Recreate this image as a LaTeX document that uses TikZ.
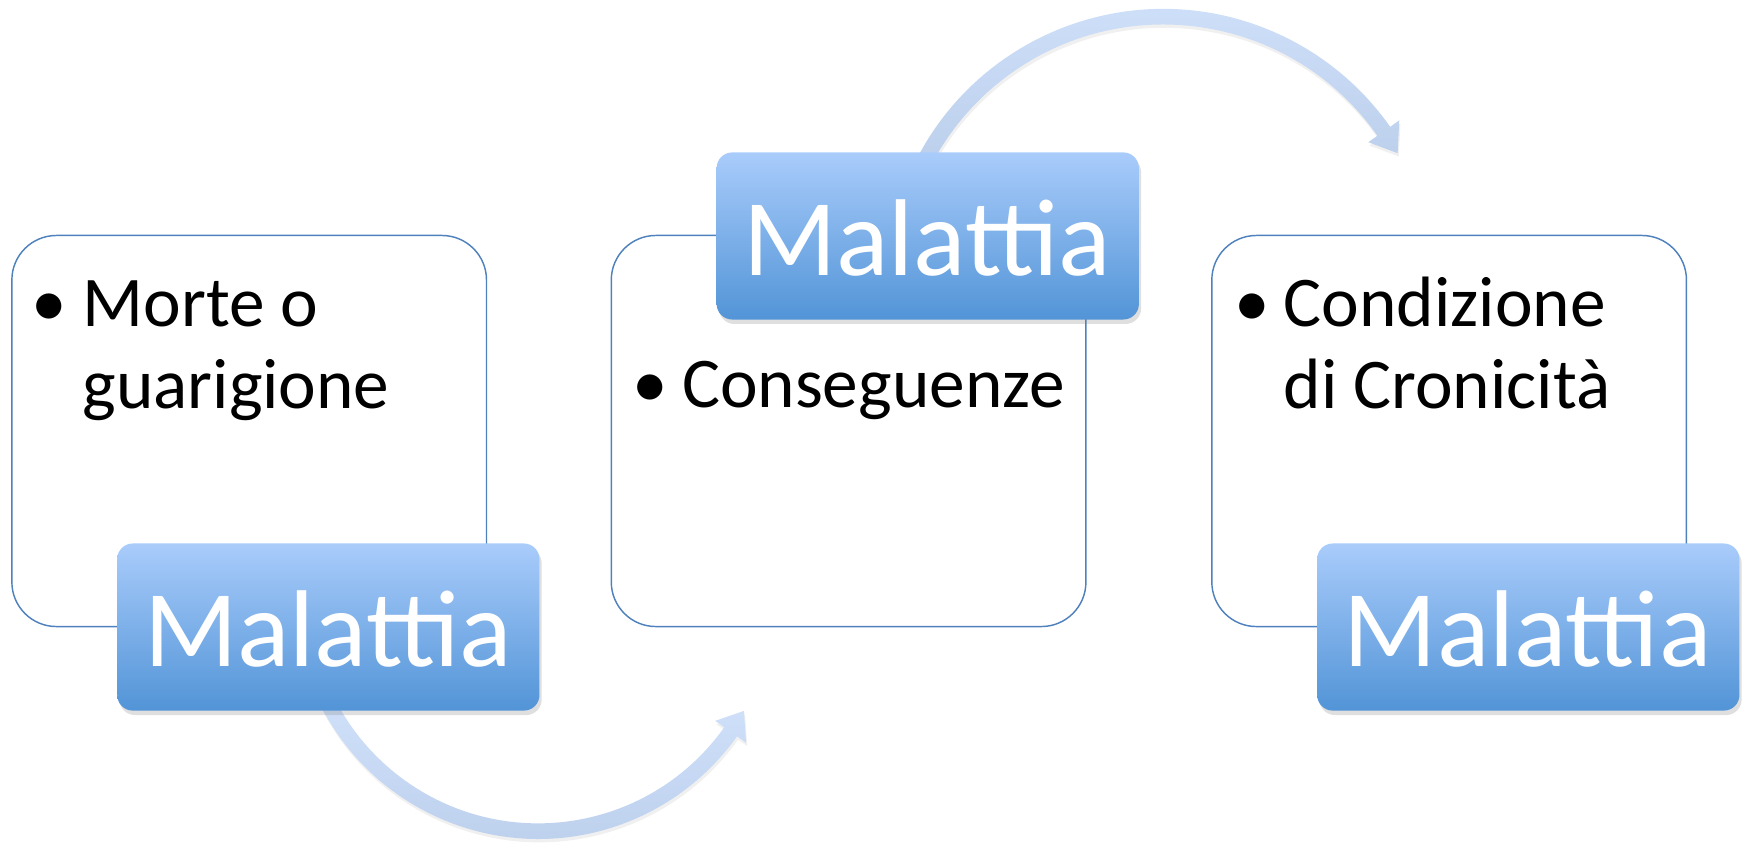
\documentclass[tikz,border=0pt]{standalone}
\usepackage{fontspec}
\setmainfont{Carlito}
\usetikzlibrary{shadows}
\definecolor{boxline}{HTML}{4F81BD}
\definecolor{maltop}{HTML}{A9CCFB}
\definecolor{malbot}{HTML}{5294D7}
\definecolor{arrtop}{HTML}{D2E2FB}
\definecolor{arrbot}{HTML}{B9CDEA}
\begin{document}
\begin{tikzpicture}[x=1pt,y=1pt,
  panel/.style={draw=boxline, line width=1.3pt, fill=white, rounded corners=40pt, anchor=south west, minimum width=426pt, minimum height=351pt},
  tag/.style={rounded corners=14pt, top color=maltop, bottom color=malbot, anchor=south west, minimum width=379pt, minimum height=150pt,
    drop shadow={shadow xshift=2pt, shadow yshift=-4pt, opacity=0.25}},
  bodytext/.style={font=\fontsize{64}{74}\selectfont, anchor=base west, align=left, inner sep=0pt},
  bullettext/.style={font=\fontsize{64}{74}\selectfont, anchor=base, inner sep=0pt},
  tagtext/.style={font=\fontsize{98}{110}\selectfont, text=white, anchor=base, inner sep=0pt},
  flow/.style={top color=arrtop, bottom color=arrbot, drop shadow={shadow xshift=1pt, shadow yshift=-3pt, opacity=0.12}}
]
\useasboundingbox (0,0) rectangle (1568,758);
% panels
\node[panel] (p1) at (10,195) {};
\node[panel] (p2) at (548,195) {};
\node[panel] (p3) at (1087,195) {};
% arrow centres
\coordinate (c1) at (483,224);
\coordinate (c2) at (1044,501);
% bottom arrow
\shade[flow] ([shift={(-157:219)}]c1) arc[start angle=-157, end angle=-35.4, radius=219]
  -- ([shift={(-35.4:229)}]c1) -- ([shift={(-29.4:212)}]c1) -- ([shift={(-35.4:195)}]c1)
  -- ([shift={(-35.4:205)}]c1) arc[start angle=-35.4, end angle=-157, radius=205] -- cycle;
% top arrow
\shade[flow] ([shift={(157:249)}]c2) arc[start angle=157, end angle=35.1, radius=249]
  -- ([shift={(35.1:259)}]c2) -- ([shift={(29.6:242)}]c2) -- ([shift={(35.1:225)}]c2)
  -- ([shift={(35.1:235)}]c2) arc[start angle=35.1, end angle=157, radius=235] -- cycle;
% tags
\node[tag] (m1) at (105,120) {};
\node[tag] (m2) at (643,471) {};
\node[tag] (m3) at (1182,120) {};
\node[tagtext] (t1) at (294.5,160) {Malattia};
\node[tagtext] (t2) at (832,511) {Malattia};
\node[tagtext] (t3) at (1371,160) {Malattia};
% body texts (base anchor of a two-line node is the last line)
\node[bullettext] (b1) at (44,465) {•};
\node[bodytext] (x1) at (74,391) {Morte o\\guarigione};
\node[bullettext] (b2) at (584,392) {•};
\node[bodytext] (x2) at (612,392) {Conseguenze};
\node[bullettext] (b3) at (1124,465) {•};
\node[bodytext] (x3) at (1152,391) {Condizione\\di Cronicità};
\end{tikzpicture}
\end{document}
